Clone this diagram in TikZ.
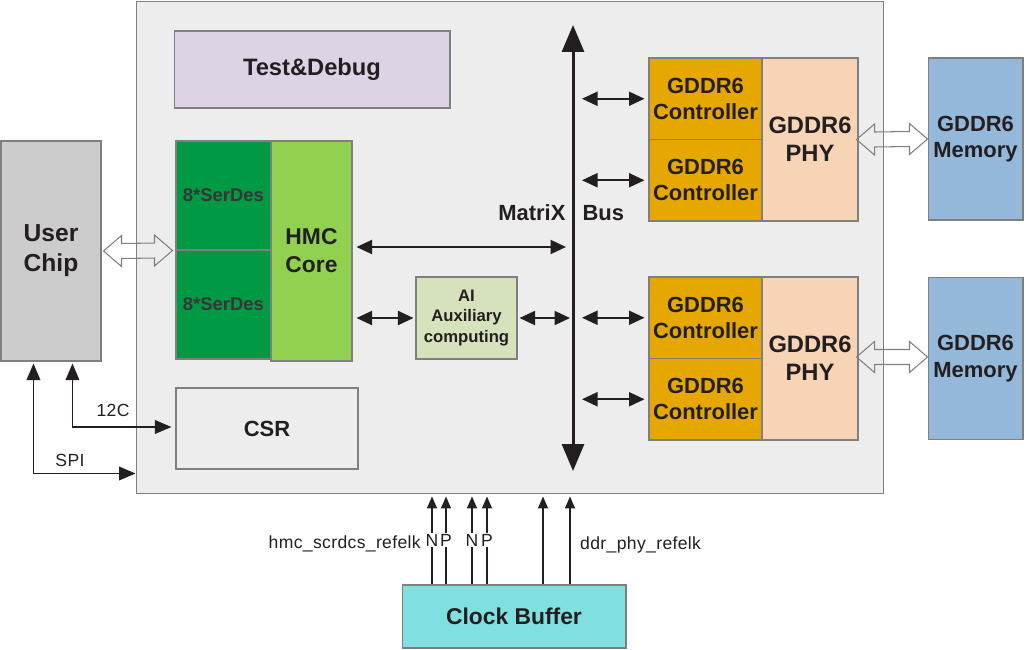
\documentclass[tikz,border=0pt]{standalone}
\usepackage{fontspec}
\setmainfont{Liberation Sans}
\usetikzlibrary{arrows.meta,calc}
\definecolor{ink}{HTML}{231F20}
\definecolor{frame}{HTML}{7F7F7F}
\definecolor{chipbg}{HTML}{EDEDED}
\definecolor{userbg}{HTML}{CCCCCC}
\definecolor{dbgbg}{HTML}{DCD3E5}
\definecolor{serdesbg}{HTML}{009A44}
\definecolor{hmcbg}{HTML}{92D050}
\definecolor{aibg}{HTML}{D6E2BC}
\definecolor{ctrlbg}{HTML}{E6A800}
\definecolor{phybg}{HTML}{F7D4B6}
\definecolor{membg}{HTML}{94B8DA}
\definecolor{clkbg}{HTML}{80DFDF}
\tikzset{
  block/.style={draw=frame,line width=0.6pt,text=ink,align=center,inner sep=0pt,
    font=\bfseries\fontsize{12.5}{15}\selectfont},
  bigtext/.style={font=\bfseries\fontsize{14}{17}\selectfont},
  dbl/.style={{Triangle[length=3.1mm,width=2.8mm]}-{Triangle[length=3.1mm,width=2.8mm]},
    line width=1.1pt,draw=ink},
  sig/.style={{Triangle[length=3.3mm,width=2.7mm]}-{Triangle[length=3.3mm,width=2.7mm]},
    line width=1.1pt,draw=ink},
  clk/.style={-{Triangle[length=2.4mm,width=2mm]},line width=0.8pt,draw=ink},
  hollow/.style={draw=frame,line width=0.6pt,line join=miter},
  small/.style={text=ink,inner sep=0.5pt,
    font=\fontsize{10}{12}\selectfont\addfontfeatures{LetterSpace=2}},
}
%% wide open double arrow between two tips
\newcommand\widelink[2]{%
  \draw[hollow] (#1) -- ++(18,-15.5) -- ++(0,8) -- ($(#2)+(-18,-7.5)$) -- ++(0,-8)
    -- (#2) -- ++(-18,15.5) -- ++(0,-8) -- ($(#1)+(18,7.5)$) -- ++(0,8) -- cycle;}
\begin{document}
\begin{tikzpicture}[x=0.02cm,y=-0.02cm]
    \useasboundingbox (0,0) rectangle (1026,649);
    %% Chip outline
    \node[draw=frame,fill=chipbg,line width=0.6pt,minimum width=14.96cm,minimum height=9.86cm,
        inner sep=0pt] (chip) at (510,247.5) {};
    %% Left side
    \node[block,bigtext,fill=userbg,minimum width=2cm,minimum height=4.4cm] (uc) at (51,251) {User\\Chip};
    \node[block,fill=dbgbg,minimum width=5.52cm,minimum height=1.54cm,
        font=\bfseries\fontsize{13.5}{16}\selectfont] (td) at (312,69.5) {Test\&Debug};
    \node[block,fill=serdesbg,minimum width=1.9cm,minimum height=2.18cm,
        font=\bfseries\fontsize{10.5}{12}\selectfont,text=ink!90] (sd1) at (223.5,195.5) {8*SerDes};
    \node[block,fill=serdesbg,minimum width=1.9cm,minimum height=2.18cm,
        font=\bfseries\fontsize{10.5}{12}\selectfont,text=ink!90] (sd2) at (223.5,304.5) {8*SerDes};
    \node[block,fill=hmcbg,minimum width=1.62cm,minimum height=4.4cm,
        font=\bfseries\fontsize{13}{16}\selectfont] (hmc) at (311.5,251) {HMC\\Core};
    \node[block,fill=chipbg,minimum width=3.64cm,minimum height=1.62cm] (csr) at (267,428.5) {CSR};
    \node[block,fill=aibg,minimum width=2.02cm,minimum height=1.64cm,
        font=\bfseries\fontsize{9.5}{11.5}\selectfont] (ai) at (466.5,318) {AI\\Auxiliary\\computing};
    %% Memory side
    \node[block,fill=ctrlbg,minimum width=2.26cm,minimum height=1.63cm] (c1) at (705.5,98.75) {GDDR6\\Controller};
    \node[block,fill=ctrlbg,minimum width=2.26cm,minimum height=1.63cm] (c2) at (705.5,180.25) {GDDR6\\Controller};
    \node[block,fill=ctrlbg,minimum width=2.26cm,minimum height=1.63cm] (c3) at (705.5,317.75) {GDDR6\\Controller};
    \node[block,fill=ctrlbg,minimum width=2.26cm,minimum height=1.63cm] (c4) at (705.5,399.25) {GDDR6\\Controller};
    \node[block,fill=phybg,minimum width=1.92cm,minimum height=3.26cm,
        font=\bfseries\fontsize{13.5}{16}\selectfont] (phy1) at (810,139.5) {GDDR6\\PHY};
    \node[block,fill=phybg,minimum width=1.92cm,minimum height=3.26cm,
        font=\bfseries\fontsize{13.5}{16}\selectfont] (phy2) at (810,358.5) {GDDR6\\PHY};
    \node[block,fill=membg,minimum width=1.9cm,minimum height=3.24cm] (m1) at (975.5,139) {GDDR6\\Memory};
    \node[block,fill=membg,minimum width=1.9cm,minimum height=3.24cm] (m2) at (975.5,358.5) {GDDR6\\Memory};
    \node[block,fill=clkbg,minimum width=4.48cm,minimum height=1.26cm,
        font=\bfseries\fontsize{13}{16}\selectfont] (cb) at (514,616.5) {Clock Buffer};
    %% MatriX bus
    \coordinate (bt) at (573,25);
    \coordinate (bb) at (573,471);
    \draw[line width=1.7pt,draw=ink,{Triangle[length=5.4mm,width=4.4mm]}-{Triangle[length=5.4mm,width=4.4mm]}] (bt) -- (bb);
    \node[block,draw=none,anchor=east] (mx) at (566,213) {MatriX};
    \node[block,draw=none,anchor=west] (bus) at (582,213) {Bus};
    %% Bus links
    \foreach \c in {c1,c2,c3,c4}
        \draw[dbl,shorten <=0.18cm,shorten >=0.08cm] (bt |- \c.west) -- (\c.west);
    \coordinate (hout) at ([yshift=0.08cm]hmc.east);
    \draw[dbl,shorten <=0.08cm,shorten >=0.14cm] (hout) -- (bt |- hout);
    \draw[dbl,shorten <=0.08cm,shorten >=0.04cm] (hmc.east |- ai.west) -- (ai.west);
    \draw[dbl,shorten <=0.04cm,shorten >=0.06cm] (ai.east) -- (bt |- ai.east);
    %% Wide links
    \widelink{[xshift=0.04cm]uc.east}{[xshift=-0.06cm]sd1.south west}
    \widelink{[xshift=-0.04cm]phy1.east}{m1.west}
    \widelink{[xshift=-0.04cm,yshift=0.03cm]phy2.east}{[yshift=0.03cm]m2.west}
    %% SPI and 12C
    \draw[sig,shorten <=0.04cm]
        ([xshift=0.66cm]uc.south west) |- ([yshift=0.42cm]chip.south west);
    \draw[sig,shorten <=0.04cm,shorten >=0.08cm]
        ([xshift=1.44cm]uc.south west) |- ([yshift=0.03cm]csr.west);
    \node[small] (spi) at (70,460) {SPI};
    \node[small] (i2c) at (113,410) {12C};
    %% Clocks
    \foreach \x in {432,446,472,487,543,570}
        \draw[clk,shorten >=0.04cm] (cb.north -| \x,0) -- (chip.south -| \x,0);
    \foreach \x/\t in {432/N,446/P,472/N,487/P}
        \node[small,fill=white] at (\x,540) {\t};
    \node[small,anchor=east] (hclk) at (422,544) {hmc\_scrdcs\_refelk};
    \node[small,anchor=west] (dclk) at (579,545) {ddr\_phy\_refelk};
\end{tikzpicture}
\end{document}
